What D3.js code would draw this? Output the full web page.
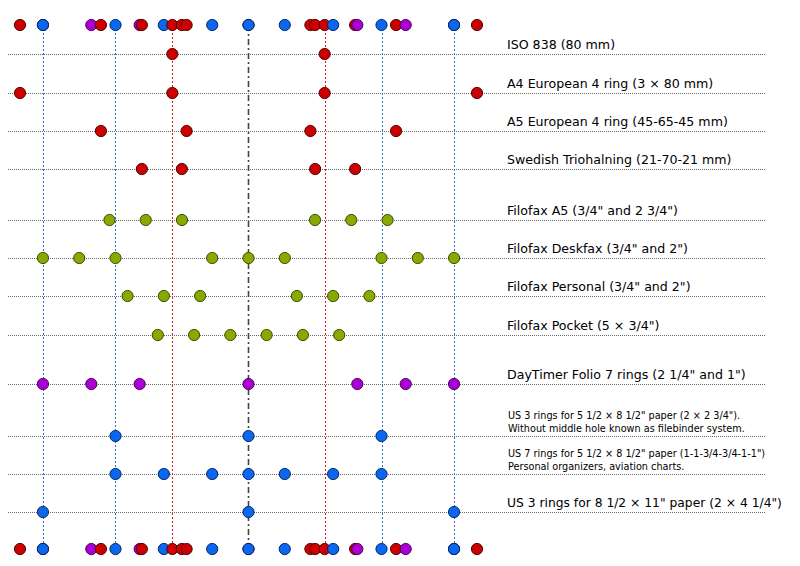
<!DOCTYPE html>
<html lang="en">
<head>
  <meta charset="UTF-8">
  <title>Ring binder hole spacing</title>
  <script src="https://d3js.org/d3.v7.min.js"></script>
  <style>
    body { margin: 0; background: #fff; }
    text { font-family: "DejaVu Sans", sans-serif; fill: #000; }
  </style>
</head>
<body>
  <div class="canvas"></div>
  <script>
    // hole positions in mm, measured from the middle of the sheet
    const labels = [
      'ISO 838 (80 mm)',
      'A4 European 4 ring (3 × 80 mm)',
      'A5 European 4 ring (45-65-45 mm)',
      'Swedish Triohalning (21-70-21 mm)',
      'Filofax A5 (3/4" and 2 3/4")',
      'Filofax Deskfax (3/4" and 2")',
      'Filofax Personal (3/4" and 2")',
      'Filofax Pocket (5 × 3/4")',
      'DayTimer Folio 7 rings (2 1/4" and 1")',
      'US 3 rings for 5 1/2 × 8 1/2" paper (2 × 2 3/4").|Without middle hole known as filebinder system.',
      'US 7 rings for 5 1/2 × 8 1/2" paper (1-1-3/4-3/4-1-1")|Personal organizers, aviation charts.',
      'US 3 rings for 8 1/2 × 11" paper (2 × 4 1/4")'
    ];
    const iso838     = [-40, 40];
    const a4Euro     = [-120, -40, 40, 120];
    const a5Euro     = [-77.5, -32.5, 32.5, 77.5];
    const swedish    = [-56, -35, 35, 56];
    const filofaxA5  = [-73.025, -53.975, -34.925, 34.925, 53.975, 73.025];
    const deskfax    = [-107.95, -88.9, -69.85, -19.05, 0, 19.05, 69.85, 88.9, 107.95];
    const personal   = [-63.5, -44.45, -25.4, 25.4, 44.45, 63.5];
    const pocket     = [-47.625, -28.575, -9.525, 9.525, 28.575, 47.625];
    const dayTimer   = [-107.95, -82.55, -57.15, 0, 57.15, 82.55, 107.95];
    const us3small   = [-69.85, 0, 69.85];
    const us7        = [-69.85, -44.45, -19.05, 0, 19.05, 44.45, 69.85];
    const us3large   = [-107.95, 0, 107.95];
    const groups     = ['metric', 'metric', 'metric', 'metric', 'filofax', 'filofax', 'filofax', 'filofax', 'daytimer', 'us', 'us', 'us'];
    const redGuides  = [-40, 40];
    const blueGuides = [-107.95, -69.85, 69.85, 107.95];

    const holes = [iso838, a4Euro, a5Euro, swedish, filofaxA5, deskfax, personal, pocket, dayTimer, us3small, us7, us3large];

    const width = 800;
    const height = 566;
    const rowTop = 25, rowBottom = 549;

    const fill = { metric: '#cc0000', filofax: '#88aa00', daytimer: '#aa00d4', us: '#0b66f0' };
    const edge = { metric: '#550000', filofax: '#3d4d00', daytimer: '#4a005e', us: '#002a66' };

    const x = d3.scaleLinear().domain([-120, 120]).range([20, 477]);
    const y = d3.scaleOrdinal()
                  .domain(labels)
                  .range([54, 93, 131, 169, 220, 258, 296, 335, 384, 436, 474, 512]);

    const rows = labels.map((l, i) => ({ label: l, holes: holes[i], group: groups[i] }));

    const svg = d3.select('.canvas')
                    .append('svg')
                    .attr('width', width)
                    .attr('height', height);

    // row base lines
    svg.append('g').selectAll('line').data(rows).enter()
      .append('line')
      .attr('x1', 8).attr('x2', 765)
      .attr('y1', d => y(d.label) + 0.5).attr('y2', d => y(d.label) + 0.5)
      .style('stroke', '#6a6a6a')
      .style('stroke-width', 1)
      .style('stroke-dasharray', '1,1');

    // vertical guides
    const guides = svg.append('g');
    guides.selectAll('.blue').data(blueGuides).enter()
      .append('line')
      .attr('x1', d => Math.round(x(d)) + 0.5).attr('x2', d => Math.round(x(d)) + 0.5)
      .attr('y1', rowTop).attr('y2', rowBottom)
      .style('stroke', '#3566c8')
      .style('stroke-dasharray', '2,2');
    guides.selectAll('.red').data(redGuides).enter()
      .append('line')
      .attr('x1', d => Math.round(x(d)) + 0.5).attr('x2', d => Math.round(x(d)) + 0.5)
      .attr('y1', rowTop).attr('y2', rowBottom)
      .style('stroke', '#ee1111')
      .style('stroke-dasharray', '2,2');
    guides.append('line')
      .attr('x1', x(0)).attr('x2', x(0))
      .attr('y1', rowTop).attr('y2', rowBottom)
      .style('stroke', '#444')
      .style('stroke-width', 1.6)
      .style('stroke-dasharray', '6,3,2,3');

    // holes on each row
    rows.forEach(r => {
      svg.append('g').selectAll('circle').data(r.holes).enter()
        .append('circle')
        .attr('cx', d => x(d))
        .attr('cy', y(r.label))
        .attr('r', 5.6)
        .style('fill', fill[r.group])
        .style('stroke', edge[r.group])
        .style('stroke-width', 1);
    });

    // summary rows at top and bottom: every non-Filofax hole, left to right
    const seen = new Set();
    const all = [];
    ['daytimer', 'metric', 'us'].forEach(g => {
      rows.filter(r => r.group === g).forEach(r => {
        r.holes.forEach(h => {
          const key = g + h;
          if (!seen.has(key)) { seen.add(key); all.push({ pos: h, group: g }); }
        });
      });
    });
    // stable sort keeps purple under blue where they coincide
    all.sort((a, b) => Math.round(x(a.pos)) - Math.round(x(b.pos)));

    [rowTop, rowBottom].forEach(cy => {
      svg.append('g').selectAll('circle').data(all).enter()
        .append('circle')
        .attr('cx', d => x(d.pos))
        .attr('cy', cy)
        .attr('r', 5.6)
        .style('fill', d => fill[d.group])
        .style('stroke', d => edge[d.group])
        .style('stroke-width', 1);
    });

    // labels
    rows.forEach((r, i) => {
      const parts = r.label.split('|');
      const yy = y(r.label);
      if (parts.length > 1) {
        svg.append('text')
          .attr('x', 508).attr('y', yy - 17)
          .style('font-size', '9.7px')
          .text(parts[0]);
        svg.append('text')
          .attr('x', 508).attr('y', yy - 4)
          .style('font-size', '9.7px')
          .text(parts[1]);
      } else {
        svg.append('text')
          .attr('x', 507).attr('y', yy - 5)
          .style('font-size', i === labels.length - 1 ? '12.3px' : '12.6px')
          .text(parts[0]);
      }
    });
  </script>
</body>
</html>
